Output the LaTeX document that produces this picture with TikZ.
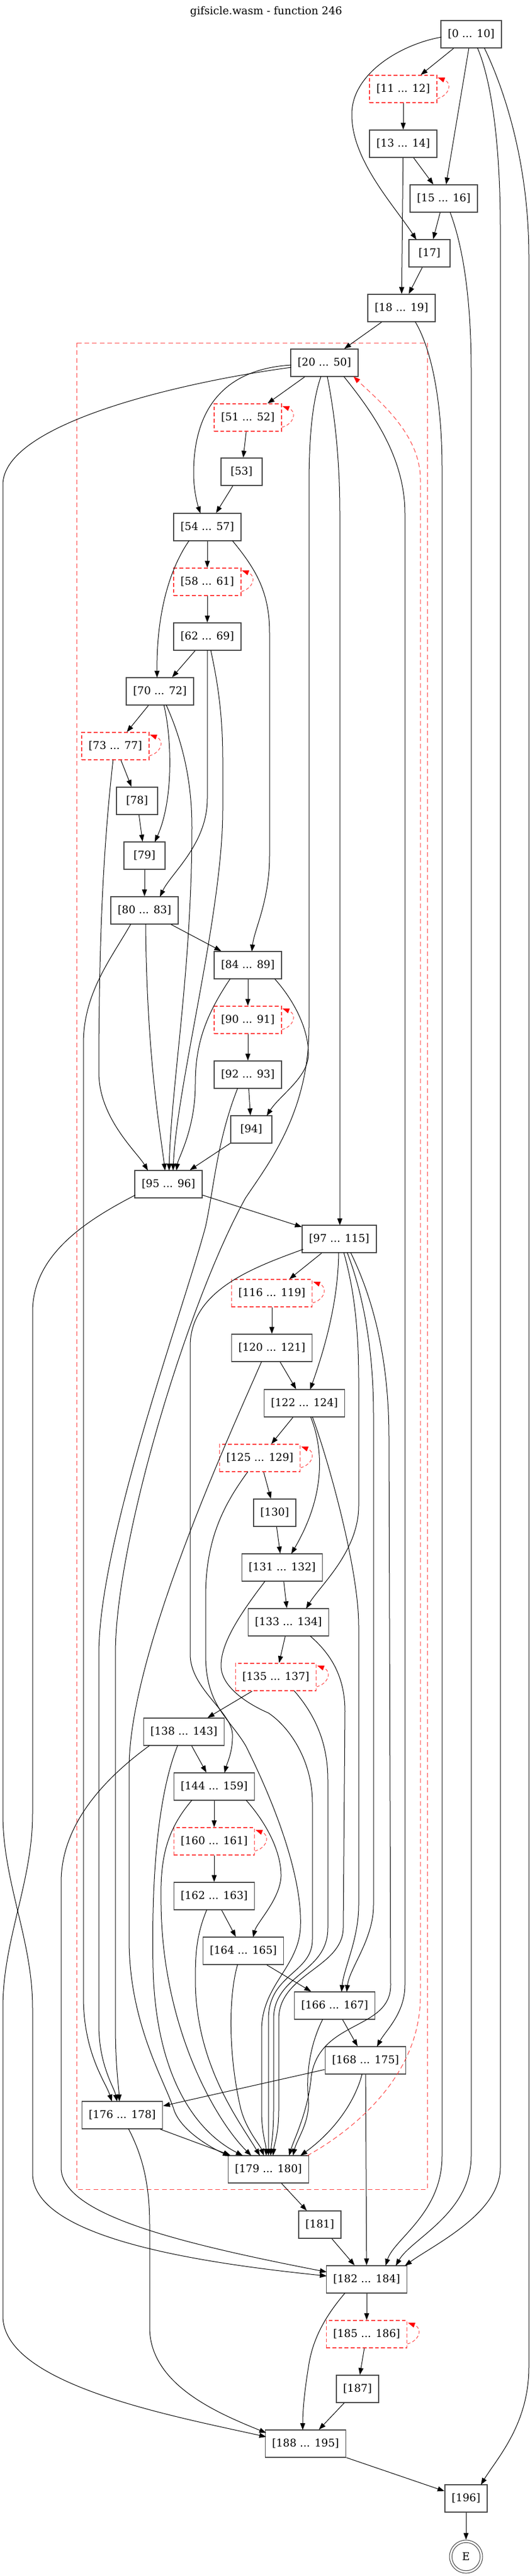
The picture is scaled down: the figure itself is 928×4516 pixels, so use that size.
\documentclass[tikz,border=0pt]{standalone}
\usepackage{fontspec}
\setmainfont{DejaVu Serif}
\usetikzlibrary{arrows.meta,calc}
\definecolor{lred}{RGB}{255,60,60}
\newcommand\mkloop[1]{\draw[slf] ($(#1.east)+(0,17)$) .. controls ($(#1.east)+(20,12)$) and ($(#1.east)+(28,-10)$) .. ($(#1.east)+(1,-20)$);}
\begin{document}
\begin{tikzpicture}[x=0.75pt,y=-0.75pt,
  bx/.style={draw=black!72,line width=1.1pt,rectangle,minimum width=54pt,minimum height=36pt,inner xsep=9pt,inner ysep=2pt,font=\fontsize{14pt}{17pt}\selectfont},
  lp/.style={bx,draw=lred,dash pattern=on 5pt off 3pt},
  ed/.style={draw=black,line width=0.75pt,-{Triangle[length=9pt,width=6.5pt]}},
  slf/.style={draw=lred,line width=0.75pt,dash pattern=on 4pt off 3pt,-{Triangle[length=9pt,width=6.5pt,color=red]}},
  bk/.style={draw=lred,line width=0.75pt,dash pattern=on 6pt off 4pt,-{Triangle[length=9pt,width=6.5pt,color=red]}}]
\fill[white] (0,0) rectangle (928,4516);
\useasboundingbox (0,0) rectangle (928,4516);
\node[font=\fontsize{14pt}{17pt}\selectfont] (title) at (466,20) {gifsicle.wasm - function 246};
\draw[lred,line width=0.6pt,dash pattern=on 6pt off 4pt] (134,601) rectangle (748,3838);
% nodes
\node[bx] (n0) at (825,60) {[0 ... 10]};
\node[lp] (n11) at (706,156) {[11 ... 12]};
\node[bx] (n13) at (706,252) {[13 ... 14]};
\node[bx] (n15) at (777,348) {[15 ... 16]};
\node[bx] (n17) at (752,444) {[17]};
\node[bx] (n18) at (703,540) {[18 ... 19]};
\node[bx] (n20) at (568,636) {[20 ... 50]};
\node[lp] (n51) at (434,732) {[51 ... 52]};
\node[bx] (n53) at (423,827) {[53]};
\node[bx] (n54) at (363,924) {[54 ... 57]};
\node[lp] (n58) at (363,1020) {[58 ... 61]};
\node[bx] (n62) at (363,1116) {[62 ... 69]};
\node[bx] (n70) at (280,1212) {[70 ... 72]};
\node[lp] (n73) at (202,1308) {[73 ... 77]};
\node[bx] (n78) at (240,1404) {[78]};
\node[bx] (n79) at (253,1500) {[79]};
\node[bx] (n80) at (253,1596) {[80 ... 83]};
\node[bx] (n84) at (434,1692) {[84 ... 89]};
\node[lp] (n90) at (434,1788) {[90 ... 91]};
\node[bx] (n92) at (434,1884) {[92 ... 93]};
\node[bx] (n94) at (440,1980) {[94]};
\node[bx] (n95) at (295,2076) {[95 ... 96]};
\node[bx] (n97) at (594,2172) {[97 ... 115]};
\node[lp] (n116) at (476,2267) {[116 ... 119]};
\node[bx] (n120) at (476,2363) {[120 ... 121]};
\node[bx] (n122) at (533,2460) {[122 ... 124]};
\node[lp] (n125) at (455,2556) {[125 ... 129]};
\node[bx] (n130) at (481,2652) {[130]};
\node[bx] (n131) at (494,2748) {[131 ... 132]};
\node[bx] (n133) at (505,2844) {[133 ... 134]};
\node[lp] (n135) at (483,2940) {[135 ... 137]};
\node[bx] (n138) at (322,3036) {[138 ... 143]};
\node[bx] (n144) at (375,3132) {[144 ... 159]};
\node[lp] (n160) at (375,3228) {[160 ... 161]};
\node[bx] (n162) at (375,3324) {[162 ... 163]};
\node[bx] (n164) at (426,3420) {[164 ... 165]};
\node[bx] (n166) at (586,3516) {[166 ... 167]};
\node[bx] (n168) at (640,3612) {[168 ... 175]};
\node[bx] (n176) at (214,3708) {[176 ... 178]};
\node[bx] (n179) at (470,3803) {[179 ... 180]};
\node[bx] (n181) at (560,3900) {[181]};
\node[bx] (n182) at (642,3996) {[182 ... 184]};
\node[lp] (n185) at (642,4092) {[185 ... 186]};
\node[bx] (n187) at (626,4188) {[187]};
\node[bx] (n188) at (535,4284) {[188 ... 195]};
\node[bx] (n196) at (816,4380) {[196]};
\node[draw=black!75,line width=0.75pt,circle,minimum size=43.5pt,inner sep=0pt,font=\fontsize{14pt}{17pt}\selectfont] (nE) at (816,4482) {E};
\draw[black!75,line width=0.75pt] (nE.center) circle[radius=18.5pt];
% self loops
\mkloop{n11}\mkloop{n51}\mkloop{n58}\mkloop{n73}\mkloop{n90}
\mkloop{n116}\mkloop{n125}\mkloop{n135}\mkloop{n160}\mkloop{n185}
% straight edges
\foreach \a/\b in {n0/n11,n0/n15,n11/n13,n13/n15,n13/n18,n15/n17,n17/n18,n18/n20,n20/n51,n51/n53,n53/n54,n54/n58,n58/n62,n62/n70,n70/n73,n73/n78,n78/n79,n79/n80,n80/n84,n84/n90,n90/n92,n92/n94,n94/n95,n95/n97,n97/n116,n116/n120,n120/n122,n122/n125,n125/n130,n130/n131,n131/n133,n133/n135,n135/n138,n138/n144,n144/n160,n160/n162,n162/n164,n164/n166,n166/n168,n168/n176,n168/n182,n176/n179,n179/n181,n181/n182,n182/n185,n185/n187,n187/n188,n188/n196,n196/nE}
  \draw[ed] (\a) -- (\b);
% curved edges
\draw[ed] ($(n0)+(-52,5)$) .. controls (700,78) and (616,130) .. (616,200) .. controls (615,280) and (690,360) .. ($(n17)+(-23,-24)$);
\draw[ed] ($(n0)+(11,24)$) .. controls (860,140) and (876,250) .. (876,400) -- (876,3800) .. controls (876,3880) and (760,3935) .. ($(n182)+(67,-24)$);
\draw[ed] ($(n0)+(23,24)$) .. controls (880,150) and (926,280) .. (926,450) -- (926,4150) .. controls (926,4250) and (870,4310) .. ($(n196)+(26,-24)$);
\draw[ed] ($(n15)+(11,24)$) .. controls (810,430) and (825,520) .. (825,650) -- (825,3780) .. controls (825,3880) and (720,3925) .. ($(n182)+(51,-24)$);
\draw[ed] ($(n18)+(24,24)$) .. controls (760,620) and (774,720) .. (774,820) -- (774,3780) .. controls (774,3880) and (690,3925) .. ($(n182)+(33,-24)$);
\draw[ed] ($(n20)+(-58,4)$) .. controls (420,645) and (339,690) .. (339,830) .. controls (339,860) and (346,885) .. ($(n54)+(-12,-24)$);
\draw[ed] ($(n20)+(-58,8)$) .. controls (330,668) and (5,740) .. (5,850) -- (5,3180) .. controls (5,3300) and (57,3400) .. (57,3520) -- (57,3810) .. controls (57,3920) and (330,3965) .. ($(n182)+(-70,-6)$);
\draw[ed] ($(n20)+(-6,24)$) .. controls (548,700) and (541,760) .. (541,850) -- (541,1800) .. controls (541,1950) and (470,2040) .. (430,2100) .. controls (330,2280) and (202,2700) .. (202,2900) -- (202,3550) .. controls (202,3620) and (208,3660) .. ($(n176)+(-5,-24)$);
\draw[ed] ($(n20)+(5,24)$) .. controls (585,720) and (595,800) .. (595,900) -- ($(n97)+(1,-24)$);
\draw[ed] ($(n20)+(34,24)$) .. controls (650,720) and (709,800) .. (709,900) -- (709,3480) .. controls (709,3530) and (675,3560) .. ($(n168)+(20,-24)$);
\draw[bk] ($(n179)+(68,-24)$) .. controls (600,3745) and (736,3650) .. (736,3500) -- (736,840) .. controls (736,760) and (660,700) .. ($(n20)+(51,24)$);
\draw[ed] ($(n54)+(-32,24)$) .. controls (295,1000) and (274,1080) .. ($(n70)+(-5,-24)$);
\draw[ed] ($(n54)+(44,24)$) .. controls (450,1000) and (472,1040) .. (472,1110) -- (472,1500) .. controls (472,1580) and (445,1630) .. ($(n84)+(7,-24)$);
\draw[ed] ($(n62)+(0,24)$) -- (363,1400) .. controls (363,1480) and (300,1530) .. ($(n80)+(27,-24)$);
\draw[ed] ($(n62)+(6,24)$) .. controls (380,1190) and (390,1250) .. (390,1330) -- (390,1420) .. controls (390,1600) and (310,1900) .. ($(n95)+(8,-24)$);
\draw[ed] ($(n70)+(7,24)$) .. controls (300,1290) and (305,1400) .. ($(n79)+(18,-24)$);
\draw[ed] ($(n70)+(11,24)$) .. controls (320,1300) and (336,1370) .. (336,1450) .. controls (336,1700) and (300,1900) .. ($(n95)+(1,-24)$);
\draw[ed] ($(n73)+(-4,24)$) .. controls (185,1450) and (173,1600) .. (173,1880) .. controls (173,1960) and (240,2020) .. ($(n95)+(-36,-24)$);
\draw[ed] ($(n80)+(-24,24)$) .. controls (195,1680) and (146,1740) .. (146,1830) -- (146,3500) .. controls (146,3600) and (185,3650) .. ($(n176)+(-18,-24)$);
\draw[ed] ($(n80)+(2,24)$) .. controls (257,1850) and (280,1980) .. ($(n95)+(-6,-24)$);
\draw[ed] ($(n84)+(-31,24)$) .. controls (360,1780) and (342,1830) .. (342,1900) .. controls (342,1980) and (312,2030) .. ($(n95)+(14,-24)$);
\draw[ed] ($(n84)+(47,24)$) .. controls (520,1760) and (541,1810) .. (540,1850) .. controls (538,1890) and (490,1920) .. ($(n94)+(27,-24)$);
\draw[ed] ($(n92)+(-18,24)$) .. controls (380,2000) and (375,2080) .. (360,2150) .. controls (320,2300) and (173,2700) .. (173,2900) -- (173,3550) .. controls (173,3620) and (200,3660) .. ($(n176)+(-9,-24)$);
\draw[ed] ($(n95)+(-58,19)$) .. controls (150,2140) and (57,2200) .. (57,2300) -- (57,3180) .. controls (57,3300) and (5,3400) .. (5,3520) -- (5,4060) .. controls (5,4180) and (300,4235) .. ($(n188)+(-69,-12)$);
\draw[ed] ($(n97)+(-63,18)$) .. controls (450,2220) and (333,2260) .. (333,2360) -- (333,2900) .. controls (333,2960) and (405,3000) .. (407,3040) .. controls (408,3070) and (398,3090) .. ($(n144)+(18,-24)$);
\draw[ed] ($(n97)+(-1,24)$) .. controls (592,2280) and (570,2360) .. ($(n122)+(10,-24)$);
\draw[ed] ($(n97)+(8,24)$) .. controls (620,2260) and (628,2330) .. (628,2420) -- (628,2640) .. controls (628,2720) and (560,2780) .. ($(n133)+(31,-24)$);
\draw[ed] ($(n97)+(14,24)$) .. controls (640,2280) and (654,2380) .. (654,2480) -- (654,3340) .. controls (654,3400) and (612,3450) .. ($(n166)+(21,-24)$);
\draw[ed] ($(n97)+(20,24)$) .. controls (660,2290) and (681,2400) .. (681,2520) -- (684,3480) .. controls (684,3560) and (560,3540) .. (545,3640) .. controls (540,3700) and (515,3750) .. ($(n179)+(36,-24)$);
\draw[ed] ($(n166)+(-21,24)$) .. controls (545,3580) and (535,3630) .. (540,3680) .. controls (543,3720) and (520,3750) .. ($(n179)+(43,-24)$);
\draw[ed] ($(n120)+(-18,24)$) .. controls (400,2520) and (226,2900) .. (226,3100) -- (226,3400) .. controls (226,3550) and (290,3650) .. (305,3700) .. controls (320,3740) and (380,3770) .. ($(n179)+(-68,-23)$);
\draw[ed] ($(n122)+(11,24)$) .. controls (570,2550) and (565,2630) .. ($(n131)+(16,-24)$);
\draw[ed] ($(n122)+(14,24)$) .. controls (575,2560) and (628,2750) .. (628,2850) -- (628,3340) .. controls (628,3400) and (602,3450) .. ($(n166)+(12,-24)$);
\draw[ed] ($(n125)+(-21,24)$) .. controls (390,2640) and (360,2700) .. (360,2800) -- (360,2900) .. controls (360,2990) and (400,3010) .. (430,3060) .. controls (490,3180) and (530,3300) .. (526,3380) .. controls (522,3450) and (458,3480) .. (458,3560) -- (458,3700) .. controls (458,3740) and (466,3760) .. ($(n179)+(-4,-24)$);
\draw[ed] ($(n131)+(-30,24)$) .. controls (420,2830) and (387,2880) .. (387,2920) .. controls (387,2960) and (440,2990) .. (470,3003) .. controls (510,3030) and (547,3090) .. (547,3160) -- (547,3400) .. controls (547,3460) and (470,3460) .. (470,3540) -- ($(n179)+(0,-24)$);
\draw[ed] ($(n133)+(38,24)$) .. controls (580,2900) and (604,2940) .. (604,3000) -- (601,3380) .. controls (600,3450) and (488,3460) .. (488,3540) -- (488,3700) .. controls (488,3740) and (480,3760) .. ($(n179)+(8,-24)$);
\draw[ed] ($(n135)+(32,24)$) .. controls (555,3010) and (574,3060) .. (574,3120) -- (574,3380) .. controls (574,3460) and (479,3460) .. (479,3540) -- (479,3700) .. controls (479,3740) and (475,3760) .. ($(n179)+(4,-24)$);
\draw[ed] ($(n138)+(-11,24)$) .. controls (275,3150) and (265,3300) .. (268,3450) .. controls (272,3620) and (330,3730) .. ($(n179)+(-45,-24)$);
\draw[ed] ($(n138)+(-60,24)$) .. controls (180,3120) and (107,3200) .. (107,3300) -- (107,3800) .. controls (107,3880) and (300,3930) .. ($(n182)+(-70,-13)$);
\draw[ed] ($(n144)+(-39,24)$) .. controls (290,3210) and (280,3260) .. (282,3340) .. controls (285,3560) and (380,3720) .. ($(n179)+(-30,-24)$);
\draw[ed] ($(n144)+(56,24)$) .. controls (470,3200) and (493,3250) .. (492,3290) .. controls (490,3330) and (450,3370) .. ($(n164)+(17,-24)$);
\draw[ed] ($(n162)+(-13,24)$) .. controls (345,3390) and (342,3420) .. (342,3470) .. controls (342,3620) and (420,3720) .. ($(n179)+(-15,-24)$);
\draw[ed] ($(n164)+(-10,24)$) .. controls (400,3500) and (400,3600) .. (420,3690) .. controls (428,3730) and (455,3760) .. ($(n179)+(-8,-24)$);
\draw[ed] ($(n168)+(-6,24)$) .. controls (620,3690) and (580,3740) .. ($(n179)+(56,-24)$);
\draw[ed] ($(n176)+(11,24)$) .. controls (250,3780) and (262,3830) .. (262,3900) -- (262,4080) .. controls (262,4180) and (380,4230) .. ($(n188)+(-69,-19)$);
\draw[ed] ($(n182)+(-38,24)$) .. controls (570,4060) and (547,4100) .. (540,4150) .. controls (532,4200) and (530,4230) .. ($(n188)+(-5,-24)$);
\end{tikzpicture}
\end{document}
